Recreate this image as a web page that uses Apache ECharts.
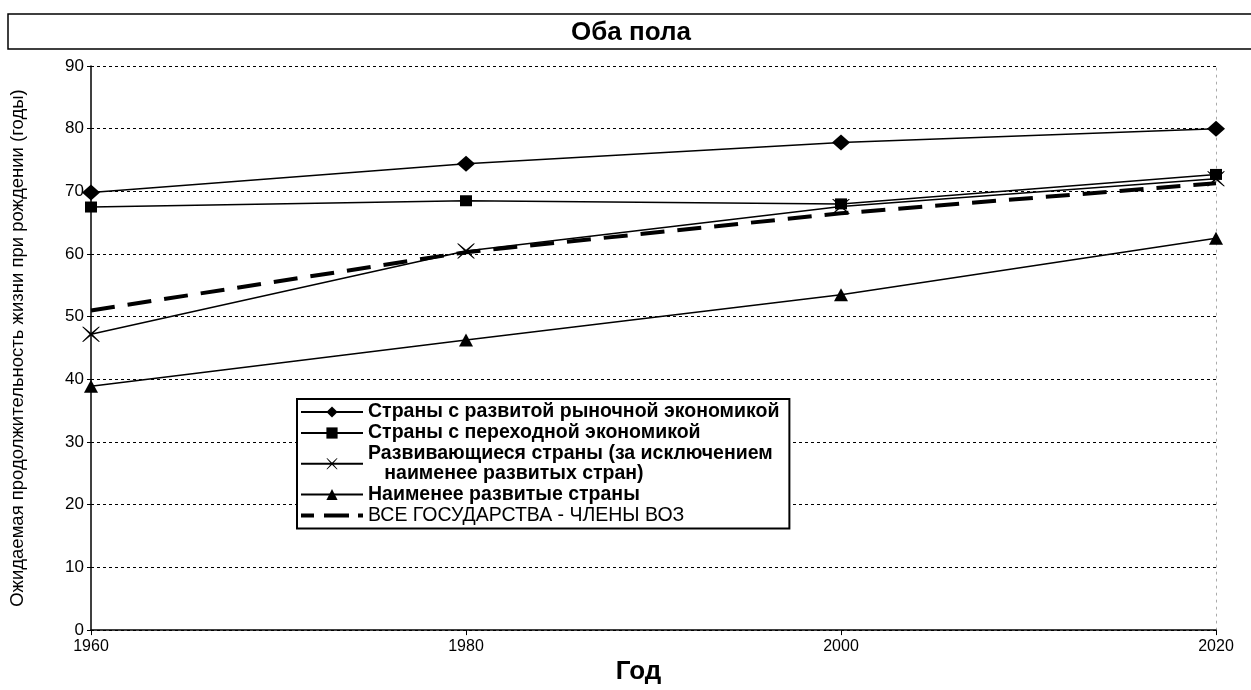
<!DOCTYPE html>
<html>
<head>
<meta charset="utf-8">
<script src="https://cdn.jsdelivr.net/npm/echarts@6/dist/echarts.min.js"></script>
<style>html,body{margin:0;padding:0;background:#fff}#c{width:1251px;height:690px}</style>
</head>
<body>
<div id="c"></div>
<script>
const years = [1960, 1980, 2000, 2020];
const developed = [69.8, 74.4, 77.8, 80.0];
const transition = [67.5, 68.5, 68.0, 72.7];
const developing = [47.2, 60.5, 67.6, 72.0];
const leastDeveloped = [38.9, 46.3, 53.5, 62.5];
const allWho = [51.0, 60.3, 66.5, 71.3];
const seriesNames = [
  'Страны с развитой рыночной экономикой',
  'Страны с переходной экономикой',
  'Развивающиеся страны (за исключением\n   наименее развитых стран)',
  'Наименее развитые страны',
  'ВСЕ ГОСУДАРСТВА - ЧЛЕНЫ ВОЗ'
];
const yTicks = [0, 10, 20, 30, 40, 50, 60, 70, 80, 90];

const FONT = "'Liberation Sans Narrow', 'Liberation Sans', Arial, sans-serif";
const FONT2 = "'Liberation Sans', Arial, sans-serif";
const crossPath = 'path://M0,0 L1.6,0 L10,8.4 L18.4,0 L20,0 L11.6,10 L20,20 L18.4,20 L10,11.6 L1.6,20 L0,20 L8.4,10 Z';
const dashIcon = 'path://M0,0 L0.01,0 L0,0.01 Z M0,14 L0.01,14 L0,13.99 Z M0,5 L13,5 L13,9 L0,9 Z M23,5 L48,5 L48,9 L23,9 Z M57,5 L62,5 L62,9 L57,9 Z';

function pairs(arr) { return years.map((y, i) => [y, arr[i]]); }

const chart = echarts.init(document.getElementById('c'));
const baseLine = { color: '#000', width: 1.5 };
chart.setOption({
  animation: false,
  backgroundColor: '#fff',
  graphic: [
    { type: 'rect', shape: { x: 8, y: 14, width: 1260, height: 35 },
      style: { fill: '#fff', stroke: '#000', lineWidth: 1.5 }, z: -1 },
    { type: 'text', x: 631, y: 33,
      style: { text: 'Оба пола', fill: '#000', font: "bold 26px " + FONT, align: 'center', verticalAlign: 'middle' } }
  ],
  grid: { left: 91, right: 35, top: 66, bottom: 56, containLabel: false },
  xAxis: {
    type: 'value', min: 1960, max: 2020, interval: 20,
    name: 'Год', nameLocation: 'middle', nameGap: 28,
    nameTextStyle: { fontFamily: FONT, fontWeight: 'bold', fontSize: 26, color: '#000', padding: [0, 30, 0, 0] },
    axisLine: { lineStyle: { color: '#000', width: 1.5 } },
    axisTick: { show: true, length: 5, lineStyle: { color: '#000' } },
    axisLabel: { fontFamily: FONT, fontSize: 16, color: '#000', margin: 8, formatter: v => String(v) },
    splitLine: { show: false }
  },
  yAxis: [{
    type: 'value', min: 0, max: 90, interval: 10,
    name: 'Ожидаемая продолжительность жизни при рождении (годы)',
    nameLocation: 'middle', nameGap: 64,
    nameTextStyle: { fontFamily: FONT2, fontSize: 18.5, color: '#000' },
    axisLine: { show: true, lineStyle: { color: '#000', width: 1.5 } },
    axisTick: { show: true, length: 4, lineStyle: { color: '#000' } },
    axisLabel: { fontFamily: FONT2, fontSize: 17, color: '#000', margin: 7,
      formatter: v => yTicks.includes(v) ? String(v) : '' },
    splitLine: { show: true, lineStyle: { color: '#000', type: [3, 3], width: 1 } }
  }, {
    type: 'value', min: 0, max: 90, interval: 10, position: 'right',
    axisLine: { show: true, lineStyle: { color: '#aaa', type: [2, 5], width: 1 } },
    axisTick: { show: false }, axisLabel: { show: false }, splitLine: { show: false }
  }],
  legend: {
    orient: 'vertical', left: 297, top: 399,
    backgroundColor: '#fff', borderColor: '#000', borderWidth: 2,
    padding: [3, 10, 3, 3], itemGap: 1, itemWidth: 62, itemHeight: 14, itemTextGap: 9,
    textStyle: { fontFamily: FONT2, fontSize: 19.5, color: '#000', lineHeight: 19.5,
      rich: { b: { fontFamily: FONT2, fontSize: 19.5, fontWeight: 'bold', color: '#000', lineHeight: 19.5 },
              n: { fontFamily: FONT2, fontSize: 19.5, color: '#000', lineHeight: 19.5 } } },
    formatter: name => name === seriesNames[4] ? '{n|' + name + '}' : '{b|' + name + '}',
    data: [
      { name: seriesNames[0] },
      { name: seriesNames[1] },
      { name: seriesNames[2] },
      { name: seriesNames[3] },
      { name: seriesNames[4], icon: dashIcon, itemStyle: { color: '#000' } }
    ]
  },
  series: [
    { name: seriesNames[0], type: 'line', data: pairs(developed), symbol: 'diamond', symbolSize: [18, 16],
      lineStyle: baseLine, itemStyle: { color: '#000' } },
    { name: seriesNames[1], type: 'line', data: pairs(transition), symbol: 'rect', symbolSize: [12, 11],
      lineStyle: baseLine, itemStyle: { color: '#000' } },
    { name: seriesNames[2], type: 'line', data: pairs(developing), symbol: crossPath, symbolSize: [18, 15],
      lineStyle: baseLine, itemStyle: { color: '#000' } },
    { name: seriesNames[3], type: 'line', data: pairs(leastDeveloped), symbol: 'triangle', symbolSize: [14, 13],
      lineStyle: baseLine, itemStyle: { color: '#000' } },
    { name: seriesNames[4], type: 'line', data: pairs(allWho), symbol: 'none',
      lineStyle: { color: '#000', width: 4, type: [24, 13] }, itemStyle: { color: '#000' } }
  ]
});
</script>
</body>
</html>
